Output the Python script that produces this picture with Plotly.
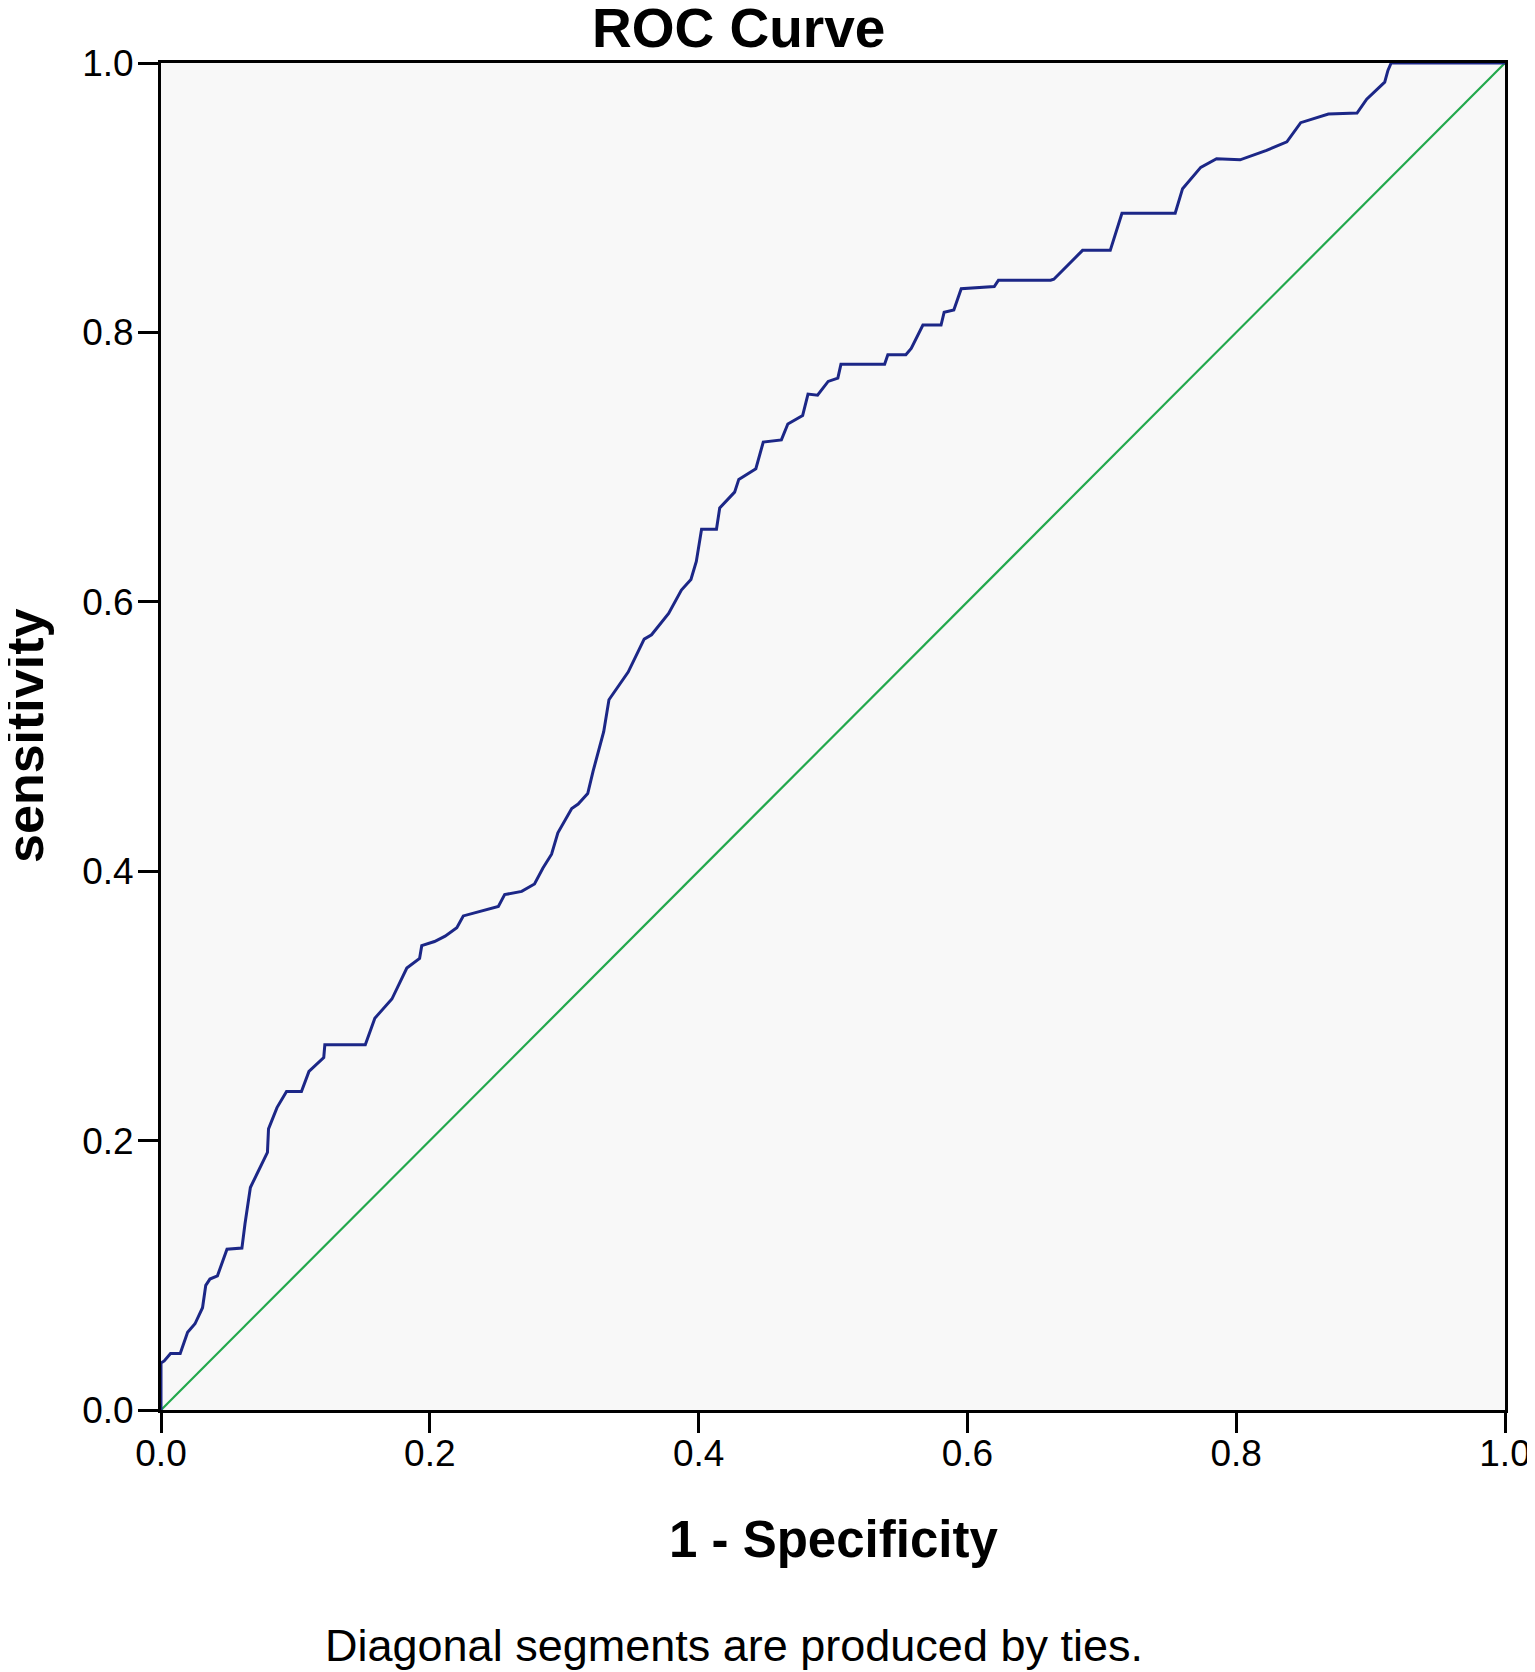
import plotly.graph_objects as go

# ROC curve points (1 - Specificity, Sensitivity)
fpr = [0.0, 0.0, 0.0024, 0.0071, 0.0143, 0.0198, 0.0253, 0.0309, 0.0333, 0.0364,
       0.0420, 0.0491, 0.0602, 0.0625, 0.0665, 0.0713, 0.0792, 0.0800, 0.0863, 0.0934,
       0.1045, 0.1101, 0.1211, 0.1219, 0.1520, 0.1591, 0.1718, 0.1829, 0.1924, 0.1940,
       0.2035, 0.2114, 0.2201, 0.2249, 0.2359, 0.2510, 0.2557, 0.2684, 0.2779, 0.2842,
       0.2906, 0.2953, 0.3056, 0.3104, 0.3175, 0.3215, 0.3294, 0.3333, 0.3476, 0.3595,
       0.3650, 0.3777, 0.3872, 0.3943, 0.3983, 0.4022, 0.4133, 0.4157, 0.4268, 0.4299,
       0.4426, 0.4481, 0.4616, 0.4664, 0.4774, 0.4814, 0.4885, 0.4964, 0.5036, 0.5059,
       0.5384, 0.5408, 0.5542, 0.5582, 0.5669, 0.5804, 0.5827, 0.5899, 0.5954, 0.6200,
       0.6231, 0.6619, 0.6643, 0.6857, 0.7063, 0.7150, 0.7546, 0.7601, 0.7736, 0.7854,
       0.8029, 0.8226, 0.8377, 0.8480, 0.8686, 0.8899, 0.8971, 0.9105, 0.9129, 0.9153,
       1.0]
tpr = [0.0, 0.0348, 0.0364, 0.0419, 0.0419, 0.0577, 0.0640, 0.0759, 0.0925, 0.0972,
       0.0996, 0.1194, 0.1202, 0.1383, 0.1652, 0.1747, 0.1913, 0.2087, 0.2245, 0.2364,
       0.2364, 0.2514, 0.2617, 0.2711, 0.2711, 0.2909, 0.3051, 0.3281, 0.3352, 0.3447,
       0.3478, 0.3518, 0.3581, 0.3668, 0.3700, 0.3739, 0.3826, 0.3850, 0.3905, 0.4024,
       0.4126, 0.4285, 0.4466, 0.4498, 0.4577, 0.4743, 0.5036, 0.5273, 0.5478, 0.5723,
       0.5755, 0.5913, 0.6087, 0.6166, 0.6300, 0.6538, 0.6538, 0.6696, 0.6814, 0.6909,
       0.6988, 0.7186, 0.7202, 0.7320, 0.7383, 0.7542, 0.7534, 0.7636, 0.7660, 0.7763,
       0.7763, 0.7834, 0.7834, 0.7881, 0.8055, 0.8055, 0.8150, 0.8166, 0.8324, 0.8340,
       0.8387, 0.8387, 0.8395, 0.8609, 0.8609, 0.8885, 0.8885, 0.9067, 0.9225, 0.9289,
       0.9281, 0.9352, 0.9415, 0.9557, 0.9621, 0.9628, 0.9731, 0.9858, 0.9945, 1.0,
       1.0]

# Reference (chance) line
ref_x = [0.0, 1.0]
ref_y = [0.0, 1.0]

tick_vals = [0.0, 0.2, 0.4, 0.6, 0.8, 1.0]
tick_text = ["0.0", "0.2", "0.4", "0.6", "0.8", "1.0"]

FONT = "Liberation Sans, Arial, sans-serif"

fig = go.Figure()
fig.add_trace(go.Scatter(x=ref_x, y=ref_y, mode="lines",
                         line=dict(color="#22A84C", width=2.2), showlegend=False,
                         hoverinfo="skip"))
fig.add_trace(go.Scatter(x=fpr, y=tpr, mode="lines",
                         line=dict(color="#1C2787", width=3), showlegend=False))

axis_common = dict(range=[0, 1], tickvals=tick_vals, ticktext=tick_text,
                   ticks="outside", ticklen=20, tickwidth=3, tickcolor="black",
                   showline=True, linecolor="black", linewidth=3, mirror=True,
                   showgrid=False, zeroline=False,
                   tickfont=dict(family=FONT, size=37, color="black"))

fig.update_layout(
    width=1535, height=1672,
    margin=dict(l=153, r=32, t=55, b=270),
    paper_bgcolor="white",
    plot_bgcolor="#F8F8F8",
    xaxis=dict(**axis_common, ticklabelstandoff=-11),
    yaxis=dict(**axis_common, ticklabelstandoff=-3),
    annotations=[
        dict(text="ROC Curve", xref="paper", yref="paper", x=0.4296, y=1.0260,
             xanchor="center", yanchor="middle", showarrow=False,
             font=dict(family=FONT, size=55, color="black", weight="bold")),
        dict(text="1 - Specificity", xref="paper", yref="paper", x=0.5, y=-0.0965,
             xanchor="center", yanchor="middle", showarrow=False,
             font=dict(family=FONT, size=51, color="black", weight="bold")),
        dict(text="sensitivity", xref="paper", yref="paper", x=-0.1012, y=0.5004,
             xanchor="center", yanchor="middle", showarrow=False, textangle=-90,
             font=dict(family=FONT, size=52, color="black", weight="bold")),
        dict(text="Diagonal segments are produced by ties.", xref="paper", yref="paper",
             x=0.4267, y=-0.1752, xanchor="center", yanchor="middle", showarrow=False,
             font=dict(family=FONT, size=45, color="black")),
    ],
)

fig.write_html("out.html")
